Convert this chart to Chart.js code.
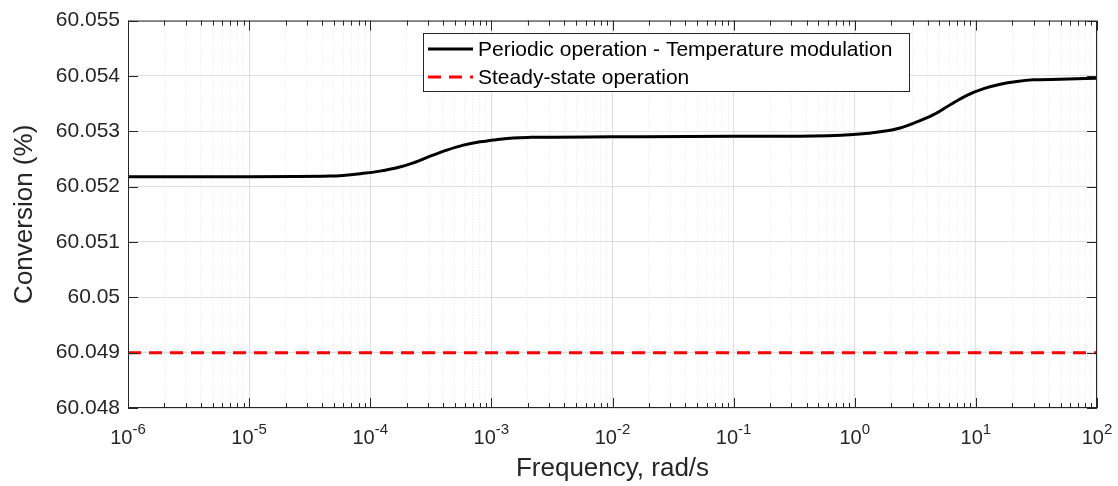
<!DOCTYPE html>
<html>
<head>
<meta charset="utf-8">
<script src="https://cdn.jsdelivr.net/npm/chart.js@4/dist/chart.umd.min.js"></script>
<style>
  html, body { margin: 0; padding: 0; background: #fff; }
  canvas { display: block; }
</style>
</head>
<body>
<canvas id="chart" width="1118" height="486"></canvas>
<script>
// --- data ---
const freqPts = [1e-6, 1e-5, 4.7e-5, 8.8e-5, 1.2e-4, 1.66e-4, 2.27e-4, 3.12e-4, 4.29e-4, 5.87e-4, 8.07e-4,
                 1.11e-3, 1.52e-3, 2.09e-3, 1e-2, 1e-1, 0.354, 0.975, 1.73, 2.37, 3.26, 4.47, 6.14, 8.43,
                 11.6, 15.9, 21.8, 29.9, 49.7, 100]
const convPts = [60.05218, 60.05218, 60.05219, 60.05224, 60.05228, 60.05234, 60.05243, 60.05255, 60.05266, 60.05275, 60.05281,
                 60.05285, 60.05288, 60.05289, 60.05290, 60.05291, 60.05291, 60.05294, 60.05300, 60.05306, 60.05317, 60.05330, 60.05348, 60.05365,
                 60.05377, 60.05385, 60.05390, 60.05393, 60.05394, 60.05396]
const steadyFreq = [1e-6, 1e2]
const steadyConv = [60.049, 60.049]

const seriesLabels = ['Periodic operation - Temperature modulation', 'Steady-state operation']
const xDecades = [-6, -5, -4, -3, -2, -1, 0, 1, 2]
const yMin = 60.048, yMax = 60.055, yStep = 0.001

const AXIS = '#262626'
const FONT = "'Liberation Sans', Arial, Helvetica, sans-serif"

// tick positions for the log axis: 1..9 x 10^n
const xTickVals = []
xDecades.forEach((d, i) => {
    if (i === xDecades.length - 1) { xTickVals.push(Math.pow(10, d)); return }
    for (let m = 1; m <= 9; m++) xTickVals.push(m * Math.pow(10, d))
})
const isDecade = v => Math.abs(Math.log10(v) - Math.round(Math.log10(v))) < 1e-9

// --- frame, inside ticks, superscript labels, legend ---
const framePlugin = {
    id: 'frame',
    afterDraw(chart) {
        const { ctx, chartArea: a, scales } = chart
        const xs = scales.x, ys = scales.y
        ctx.save()
        ctx.strokeStyle = AXIS
        ctx.lineWidth = 1
        ctx.strokeRect(a.left + 0.5, a.top + 0.5, a.right - a.left - 1, a.bottom - a.top - 1)

        // x ticks (inside, top and bottom)
        ctx.beginPath()
        xs.ticks.forEach(t => {
            const px = Math.round(xs.getPixelForValue(t.value)) + 0.5
            const len = t.major ? 10 : 5
            ctx.moveTo(px, a.bottom); ctx.lineTo(px, a.bottom - len)
            ctx.moveTo(px, a.top); ctx.lineTo(px, a.top + len)
        })
        // y ticks (inside, left and right)
        ys.ticks.forEach(t => {
            const py = Math.round(ys.getPixelForValue(t.value)) + 0.5
            ctx.moveTo(a.left, py); ctx.lineTo(a.left + 10, py)
            ctx.moveTo(a.right, py); ctx.lineTo(a.right - 10, py)
        })
        ctx.stroke()

        // x labels: 10^n
        ctx.fillStyle = AXIS
        ctx.textBaseline = 'alphabetic'
        xs.ticks.filter(t => t.major).forEach(t => {
            const px = xs.getPixelForValue(t.value)
            const exp = String(Math.round(Math.log10(t.value)))
            ctx.font = `20px ${FONT}`
            const wBase = ctx.measureText('10').width
            ctx.font = `15px ${FONT}`
            const wExp = ctx.measureText(exp).width
            const x0 = px - (wBase + wExp) / 2
            ctx.font = `20px ${FONT}`
            ctx.fillText('10', x0, a.bottom + 36)
            ctx.font = `15px ${FONT}`
            ctx.fillText(exp, x0 + wBase, a.bottom + 26)
        })

        // legend box
        const lx = 423, ly = 33, lw = 486, lh = 58
        ctx.fillStyle = '#fff'
        ctx.fillRect(lx, ly, lw, lh)
        ctx.strokeStyle = AXIS
        ctx.lineWidth = 1
        ctx.strokeRect(lx + 0.5, ly + 0.5, lw, lh)
        chart.data.datasets.forEach((ds, i) => {
            const y = ly + 16 + i * 28
            ctx.beginPath()
            ctx.strokeStyle = ds.borderColor
            ctx.lineWidth = ds.borderWidth
            ctx.setLineDash(ds.borderDash || [])
            ctx.moveTo(lx + 5, y); ctx.lineTo(lx + 50, y)
            ctx.stroke()
            ctx.setLineDash([])
            ctx.fillStyle = '#000'
            ctx.font = `21px ${FONT}`
            ctx.textBaseline = 'middle'
            ctx.fillText(ds.label, lx + 55, y + 1)
        })
        ctx.restore()
    }
}

new Chart(document.getElementById('chart'), {
    type: 'line',
    data: {
        datasets: [
            {
                label: seriesLabels[0],
                data: freqPts.map((f, i) => ({ x: f, y: convPts[i] })),
                borderColor: '#000000',
                borderWidth: 3,
                pointRadius: 0,
                cubicInterpolationMode: 'monotone',
                fill: false,
            },
            {
                label: seriesLabels[1],
                data: steadyFreq.map((f, i) => ({ x: f, y: steadyConv[i] })),
                borderColor: '#ff0000',
                borderWidth: 3,
                borderDash: [13, 8],
                pointRadius: 0,
                fill: false,
            }
        ]
    },
    options: {
        responsive: false,
        animation: false,
        layout: { padding: { left: 0, right: 21, top: 19, bottom: 0 } },
        plugins: { legend: { display: false }, tooltip: { enabled: false } },
        scales: {
            x: {
                type: 'logarithmic',
                min: 1e-6, max: 1e2,
                afterBuildTicks: axis => { axis.ticks = xTickVals.map(v => ({ value: v, major: isDecade(v) })) },
                afterFit: axis => { axis.height = 78 },
                ticks: { display: false },
                grid: {
                    drawTicks: false,
                    color: c => (c.tick && c.tick.major) ? '#dedede' : '#e6e6e6',
                    lineWidth: 1,
                },
                border: { display: false, dash: c => (c.tick && c.tick.major) ? [] : [1, 2] },
                title: { display: true, text: 'Frequency, rad/s', color: AXIS, font: { family: FONT, size: 26 }, padding: { top: 0, bottom: 2 } },
            },
            y: {
                min: yMin, max: yMax,
                afterFit: axis => { axis.width = 128 },
                ticks: {
                    stepSize: yStep,
                    color: AXIS,
                    padding: 8,
                    font: { family: FONT, size: 21 },
                    callback: v => String(Number(v.toFixed(3))),
                },
                grid: { drawTicks: false, color: '#dedede', lineWidth: 1 },
                border: { display: false },
                title: { display: true, text: 'Conversion (%)', color: AXIS, font: { family: FONT, size: 26 }, padding: { top: 9, bottom: 0 } },
            }
        }
    },
    plugins: [framePlugin]
})
</script>
</body>
</html>
